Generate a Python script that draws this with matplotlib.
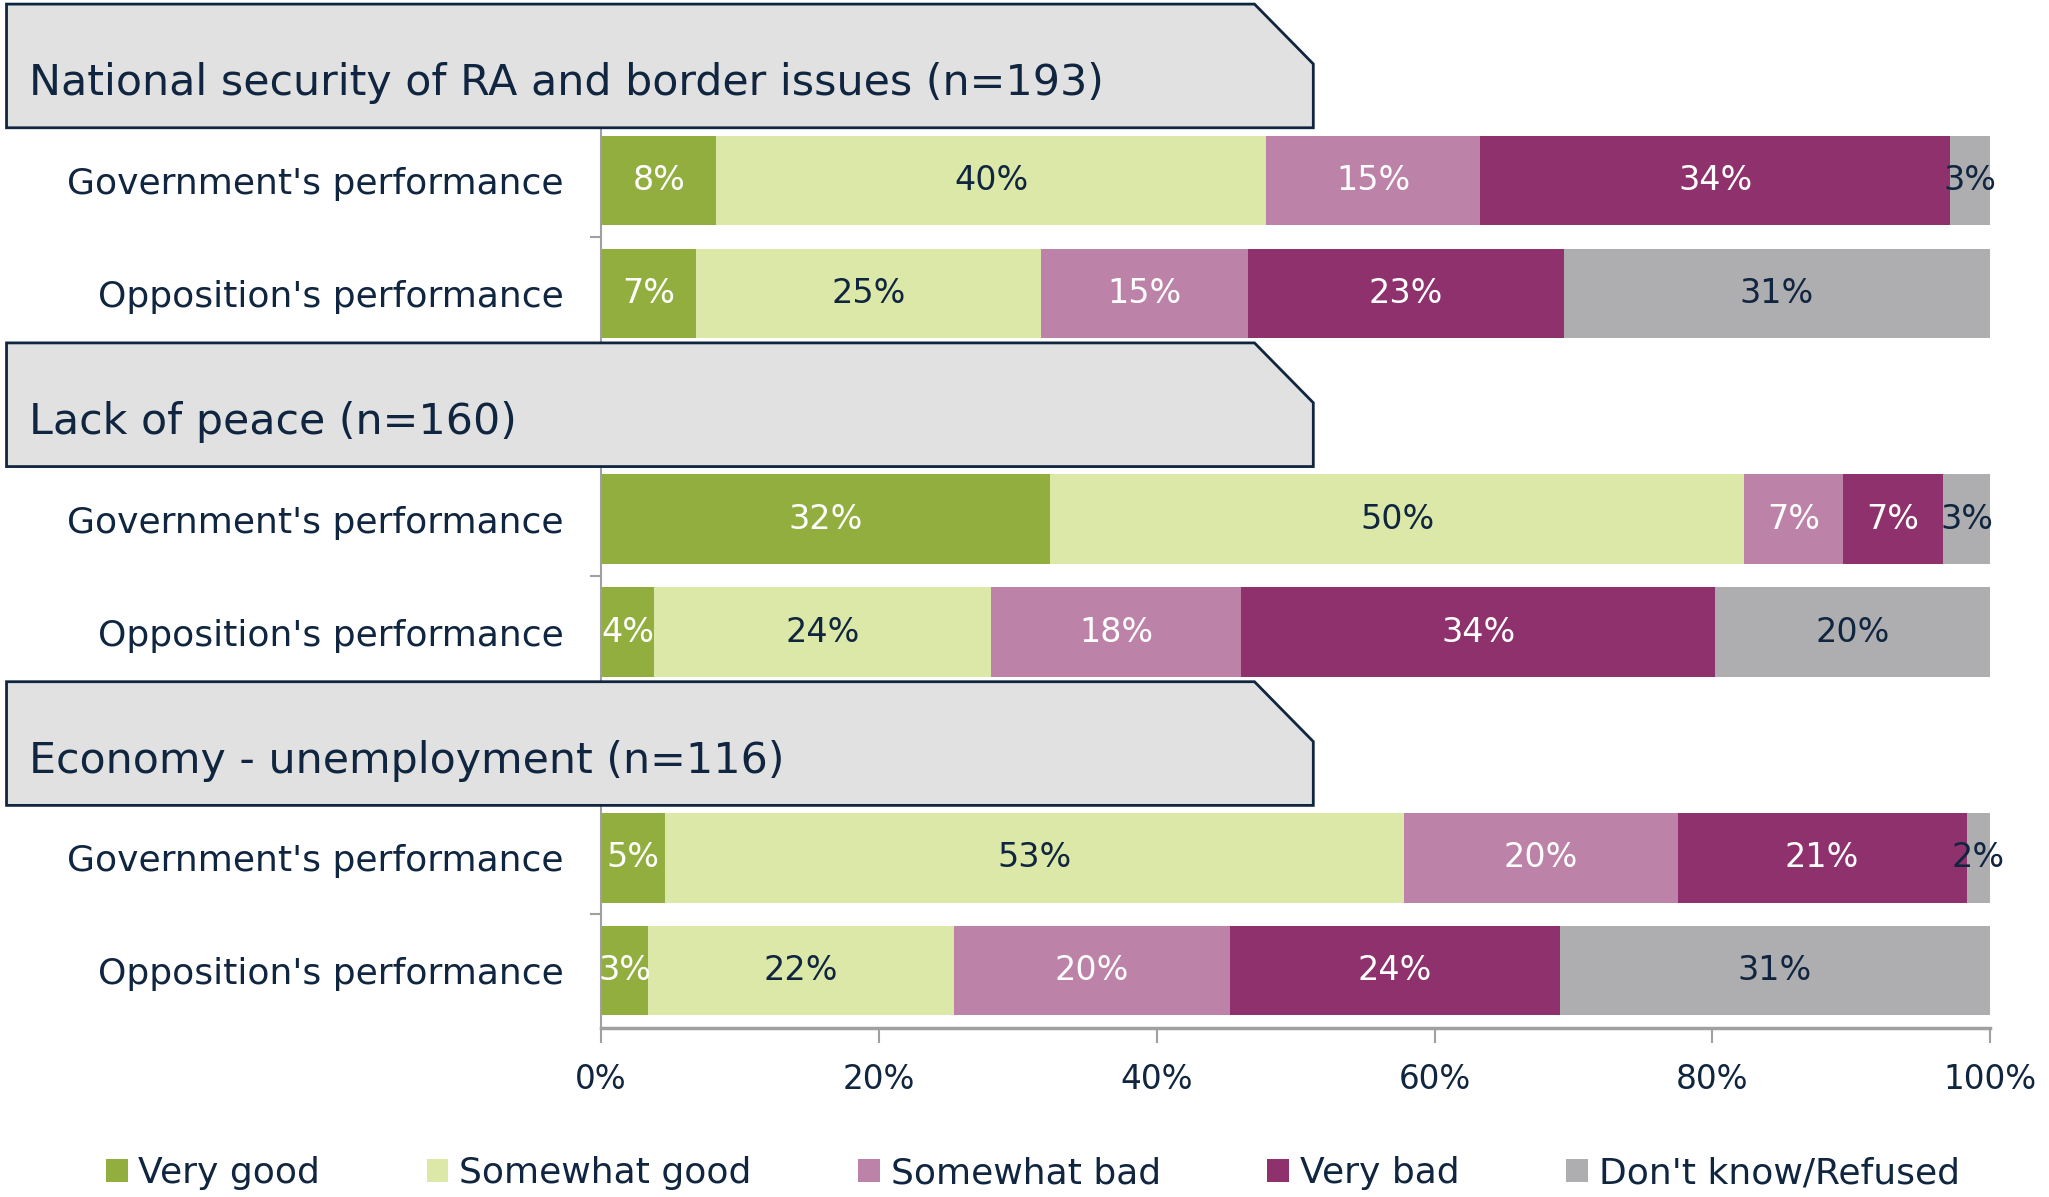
import matplotlib.pyplot as plt
from matplotlib.patches import Polygon
from matplotlib.transforms import blended_transform_factory

topics = ["National security of RA and border issues (n=193)",
          "Lack of peace (n=160)",
          "Economy - unemployment (n=116)"]
rows = ["Government's performance", "Opposition's performance"]
answers = ["Very good", "Somewhat good", "Somewhat bad", "Very bad", "Don't know/Refused"]

# rows: security gov/opp, peace gov/opp, economy gov/opp
very_good = [8.3, 6.8, 32.3, 3.8, 4.6, 3.4]
somewhat_good = [39.6, 24.9, 50.0, 24.3, 53.2, 22.0]
somewhat_bad = [15.4, 14.9, 7.1, 18.0, 19.7, 19.9]
very_bad = [33.8, 22.7, 7.2, 34.1, 20.8, 23.7]
dont_know = [2.9, 30.7, 3.4, 19.8, 1.7, 31.0]
ticks = [0, 20, 40, 60, 80, 100]

colors = ["#91AE3E", "#DCE8A8", "#BC82A8", "#8E316D", "#AEAEB0"]
text_colors = ["white", "#10253F", "white", "white", "#10253F"]
navy = "#10253F"

fig = plt.figure(figsize=(20.49, 11.97), dpi=100)
ax = fig.add_axes([460 / 1568, 1 - 787 / 916, 1063 / 1568, 783 / 916])

# each topic takes three slots: header, government, opposition
ypos = []
for g in range(len(topics)):
    ypos += [g * 3 + 1, g * 3 + 2]

left = [0] * len(ypos)
for name, vals, c, tc in zip(answers, [very_good, somewhat_good, somewhat_bad, very_bad, dont_know],
                             colors, text_colors):
    bars = ax.barh(ypos, vals, left=left, height=0.79, color=c, label=name, linewidth=0)
    ax.bar_label(bars, labels=[f"{v:.0f}%" for v in vals], label_type="center",
                 color=tc, fontsize=24)
    left = [l + v for l, v in zip(left, vals)]

ax.set_xlim(0, 100)
ax.set_ylim(8.51, -0.55)
ax.set_xticks(ticks)
ax.set_xticklabels([f"{t}%" for t in ticks], fontsize=23.5, color=navy)
ax.set_yticks(ypos)
ax.set_yticklabels(rows * len(topics), fontsize=26, color=navy)
ax.tick_params(axis="y", which="major", length=0, pad=27)
ax.set_yticks([1.5, 4.5, 7.5], minor=True)
ax.tick_params(axis="y", which="minor", length=8, width=1.5, color="#A0A0A0")
ax.tick_params(axis="x", length=11, width=1.5, color="#A0A0A0", pad=14)
for s in ["top", "right"]:
    ax.spines[s].set_visible(False)
ax.spines["left"].set_color("#A0A0A0")
ax.spines["left"].set_linewidth(1.5)
ax.spines["bottom"].set_color("#A0A0A0")
ax.spines["bottom"].set_linewidth(2.5)

# topic header boxes with cut corner
trans = blended_transform_factory(fig.transFigure, ax.transData)
x0, x1, x2 = 5 / 1568, 960 / 1568, 1005 / 1568
for g, topic in enumerate(topics):
    s = g * 3
    pts = [(x0, s - 0.56), (x1, s - 0.56), (x2, s - 0.03), (x2, s + 0.535), (x0, s + 0.535)]
    ax.add_patch(Polygon(pts, closed=True, transform=trans, facecolor="#E1E1E1",
                         edgecolor=navy, linewidth=2, clip_on=False, zorder=5))
    ax.text(22 / 1568, s + 0.14, topic, transform=trans, fontsize=30.8, color=navy,
            ha="left", va="center", zorder=6)

fig.legend(loc="center", bbox_to_anchor=(0.504, 0.02), ncol=5, frameon=False,
           fontsize=26, handlelength=0.6, handleheight=0.6, handletextpad=0.3,
           columnspacing=2.95, labelcolor=navy)

plt.savefig("out.png")
